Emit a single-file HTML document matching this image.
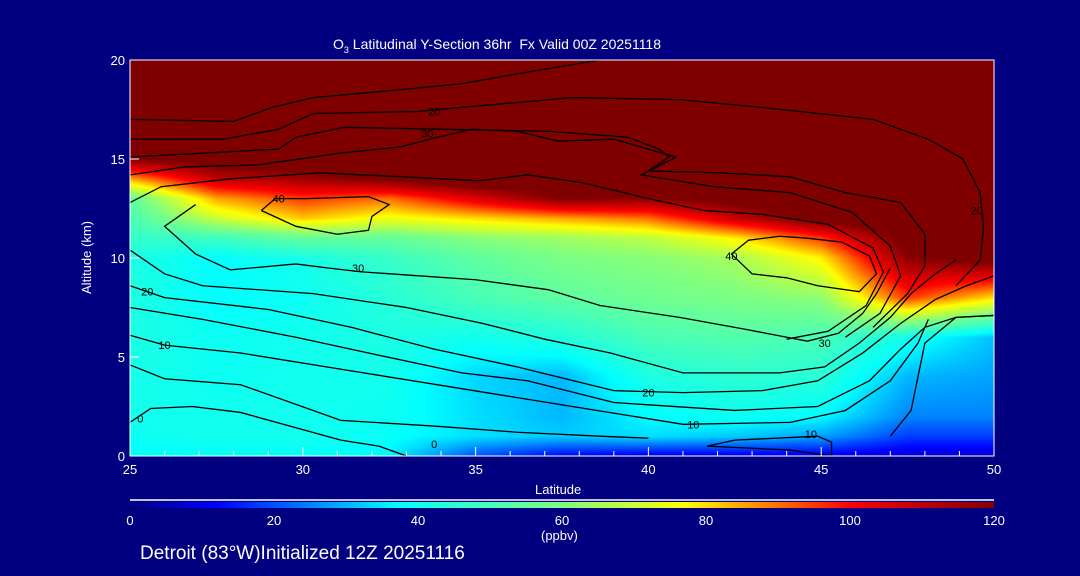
<!DOCTYPE html>
<html><head><meta charset="utf-8"><style>
body{margin:0;background:#000080;width:1080px;height:576px;overflow:hidden;font-family:"Liberation Sans",sans-serif;color:#fff}
#wrap{position:relative;width:1080px;height:576px}
.t{position:absolute;white-space:nowrap;font-size:13px;color:#fff}
</style></head><body>
<div id="wrap">
<canvas id="field" width="864" height="396" style="position:absolute;left:130px;top:60px"></canvas>
<canvas id="cbar" width="864" height="6" style="position:absolute;left:130px;top:502px"></canvas>
<svg id="svg" width="1080" height="576" style="position:absolute;left:0;top:0"></svg>
<div class="t" style="left:333px;top:36px;font-size:14px">O<sub style="font-size:9px">3</sub> Latitudinal Y-Section 36hr&nbsp; Fx Valid 00Z 20251118</div>
<div class="t" style="left:535px;top:482px">Latitude</div>
<div class="t" style="left:50px;top:250px;transform:rotate(-90deg);transform-origin:center">Altitude (km)</div>
<div class="t" style="left:541px;top:528px">(ppbv)</div>
<div class="t" style="left:140px;top:543px;font-size:19px">Detroit (83°W)Initialized 12Z 20251116</div>
</div>
<script>
const lats=[25,27.5,30,32.5,35,37.5,40,42.5,45,47.5,50];
const alts=[0,1,2,4,6,8,10,11,12,13,14,15,17,20];
const ozone=[
[37,38,38,36,20,12,10,10,10,8,8],
[39,40,40,38,34,32,34,32,28,18,18],
[40,40,40,39,34,30,37,39,37,25,25],
[41,39,40,40,33,30,42,45,44,30,28],
[42,39,40,42,40,43,50,52,50,40,31],
[42,37,39,44,50,54,57,59,62,95,80],
[42,37,41,47,54,59,61,65,78,118,125],
[46,48,55,55,61,64,68,78,95,125,130],
[50,70,82,75,80,85,90,108,125,130,130],
[54,85,95,90,105,120,118,125,130,130,130],
[85,110,115,122,130,130,130,130,130,130,130],
[120,126,130,130,130,130,130,130,130,130,130],
[130,130,130,130,130,130,130,130,130,130,130],
[130,130,130,130,130,130,130,130,130,130,130]];
const cbTicks=[0,20,40,60,80,100,120];
const xTicks=[25,30,35,40,45,50];
const yTicks=[0,5,10,15,20];
const contours=[
[[25,17],[28,16.9],[29.1,17.6],[30.3,18.1],[32.2,18.4],[34.6,18.8],[36.2,19.3],[38.6,20]],
[[25,16],[27.7,16],[29.3,16.5],[30.3,17.3],[33.3,17.4],[35.2,17.7],[37.8,18.1],[40.9,18],[43.3,17.6],[46.5,17],[48.1,16],[49.1,15],[49.6,13.3],[49.7,11.6],[49.6,9.9],[48.9,8.6]],
[[25,15.1],[29.3,15.5],[29.8,16.1],[31.2,16.6],[34.1,16.5],[37.1,16.4],[39.4,16.1],[40.3,15.5],[40.6,15.1],[40,14.4],[42.1,14.3],[44.1,14.1],[45.7,13.3],[47.3,12.8],[48,11.2],[48,9.6],[47.5,8.2],[46.5,6.5]],
[[25,14.2],[26.6,14.6],[28.7,14.7],[31.1,15.3],[32.8,15.6],[33.9,16.1],[34.9,16.5],[36.2,16.4],[37.4,15.9],[39,16],[40.8,15.1],[39.8,14.2],[41.9,13.6],[44.1,13.3],[45.9,12.3],[47,10.6],[47.3,9.1],[46.7,7.2],[45.7,6]],
[[25,12.8],[25.9,13.6],[27.9,14],[30.5,14.3],[32.9,14.1],[35.1,13.9],[36.5,14.2],[38.1,13.8],[40,13.0],[41.6,12.4],[43.3,12.2],[45.2,11.7],[46.5,10.5],[46.8,9.3],[46.3,7.6],[45.2,6.3],[44,5.9]],
[[28.8,12.4],[29.2,13.0],[30.1,13.0],[31.9,13.1],[32.5,12.7],[32.0,12.1],[31.9,11.4],[31.0,11.2],[29.8,11.6],[28.8,12.4]],
[[42.4,10.2],[42.9,10.9],[43.8,11.1],[44.6,11.0],[45.6,10.8],[46.4,10.1],[46.6,9.2],[46.1,8.3],[44.9,8.6],[44.0,9.0],[43.0,9.2],[42.7,9.7],[42.4,10.2]],
[[26.9,12.7],[26.0,11.6],[26.9,10.2],[27.9,9.4],[29.8,9.7],[30.7,9.5],[31.7,9.3],[35,8.9],[37.1,8.4],[38.6,7.6],[40.9,7.0],[42.8,6.4],[44.6,5.8],[45.5,6.2],[46.2,7.2],[46.6,8.2],[47.0,9.5]],
[[25,10.4],[26,9.2],[27.1,8.6],[30.3,8.2],[33,7.5],[35.2,6.7],[37,5.9],[38.9,5.2],[41,4.2],[43.8,4.2],[45.1,4.5],[46.1,5.7],[47,7.0],[47.6,8.2],[48.3,9.2],[48.9,9.9]],
[[25,8.6],[26,8.0],[29,7.4],[31.4,6.5],[33.8,5.4],[36.2,4.5],[39,3.3],[41,3.2],[43.3,3.3],[44.9,3.8],[46.2,5.2],[47.3,6.7],[48.3,7.9],[49.2,8.6],[50,9.1]],
[[25,7.5],[27.1,6.9],[29.8,6.0],[31.9,5.2],[34.6,4.2],[36.5,3.8],[39,2.7],[42.5,2.3],[44.9,2.5],[46.4,3.8],[47.3,5.4],[48,6.5],[48.9,7.0],[50,7.1]],
[[25,6.1],[26,5.6],[28.2,5.2],[31.4,4.3],[34.6,3.4],[37.8,2.5],[41,1.6],[44.1,1.7],[45.7,2.3],[47,3.8],[47.8,5.7],[48.1,6.9]],
[[25,4.6],[26,3.9],[28.2,3.6],[31.1,1.8],[33.9,1.5],[36.2,1.2],[38.6,1.0],[40,0.9]],
[[25,1.7],[25.6,2.4],[26.8,2.5],[28.2,2.2],[31.1,0.8],[32.2,0.5],[33,0]],
[[41.7,0.5],[42.5,0.8],[44.9,1.0],[45.3,0.7],[45.3,0],[44.1,0.3],[41.7,0.5]],
[[47,1.0],[47.6,2.3],[47.8,4.0],[48,5.7],[48.9,7.0],[50,7.1]]
];
const cLabels=[["40",29.3,13.0],["30",31.6,9.5],["20",25.5,8.3],["10",26.0,5.6],["0",25.3,1.9],["0",33.8,0.6],["20",40,3.2],["10",41.3,1.6],["10",44.7,1.1],["30",45.1,5.7],["40",42.4,10.1],["20",33.8,17.4],["30",33.6,16.3],["20",49.5,12.4]];
const stops=[[0,[0,0,130]],[12,[0,0,255]],[37,[0,255,255]],[60,[128,255,128]],[77,[255,255,0]],[100,[255,0,0]],[120,[128,0,0]]];
const X0=130,X1=994,Y0=456,Y1=60;
const xs=l=>X0+(l-25)/25*(X1-X0), ys=a=>Y0-(a/20)*(Y0-Y1);
function cmap(v){v=Math.max(0,Math.min(120,v));for(let i=1;i<stops.length;i++){if(v<=stops[i][0]){const[a,ca]=stops[i-1],[b,cb]=stops[i];const t=(v-a)/(b-a);return ca.map((c,k)=>Math.round(c+(cb[k]-c)*t));}}return stops[stops.length-1][1];}
function idx(arr,v){for(let i=0;i<arr.length-1;i++)if(v<=arr[i+1])return[i,(v-arr[i])/(arr[i+1]-arr[i])];return[arr.length-2,1];}
const fc=document.getElementById('field').getContext('2d');const img=fc.createImageData(864,396);
for(let py=0;py<396;py++){const a=20-(py+0.5)/396*20;const[j,ty]=idx(alts,a);
for(let px=0;px<864;px++){const l=25+(px+0.5)/864*25;const[i,tx]=idx(lats,l);
const v=(ozone[j][i]*(1-tx)+ozone[j][i+1]*tx)*(1-ty)+(ozone[j+1][i]*(1-tx)+ozone[j+1][i+1]*tx)*ty;
const c=cmap(v);const o=(py*864+px)*4;img.data[o]=c[0];img.data[o+1]=c[1];img.data[o+2]=c[2];img.data[o+3]=255;}}
fc.putImageData(img,0,0);
const cc=document.getElementById('cbar').getContext('2d');
for(let px=0;px<864;px++){const c=cmap(px/864*120);cc.fillStyle=`rgb(${c})`;cc.fillRect(px,0,1,6);}
const svg=document.getElementById('svg');const NS='http://www.w3.org/2000/svg';
function mk(t,at){const e=document.createElementNS(NS,t);for(const k in at)e.setAttribute(k,at[k]);svg.appendChild(e);return e;}
contours.forEach(c=>{const e=mk('polyline',{points:c.map(p=>xs(p[0])+','+ys(p[1])).join(' '),fill:'none',stroke:'#000','stroke-width':1.3});

});
cLabels.forEach(L=>{const e=mk('text',{x:xs(L[1]),y:ys(L[2])+4,'font-size':11,fill:'#000','text-anchor':'middle','font-family':'Liberation Sans'});e.textContent=L[0];

});
const fr=mk('rect',{x:X0,y:Y1,width:X1-X0,height:Y0-Y1,fill:'none',stroke:'#fff','stroke-width':1});


for(let l=25;l<=50;l++){const e=mk('line',{x1:xs(l),x2:xs(l),y1:Y0,y2:Y0-(l%5?5:9),stroke:'#fff'});

}
xTicks.forEach(l=>{const e=mk('text',{x:xs(l),y:Y0+18,'font-size':13,fill:'#fff','text-anchor':'middle','font-family':'Liberation Sans'});e.textContent=l;

});
yTicks.forEach(a=>{const t=mk('line',{x1:X0,x2:X0+9,y1:ys(a),y2:ys(a),stroke:'#fff'});


const e=mk('text',{x:X0-5,y:ys(a)+5,'font-size':13,fill:'#fff','text-anchor':'end','font-family':'Liberation Sans'});e.textContent=a;

});
const cl=mk('line',{x1:130,x2:994,y1:500,y2:500,stroke:'#fff','stroke-width':1.5});


cbTicks.forEach(v=>{const e=mk('text',{x:130+v/120*864,y:525,'font-size':13,fill:'#fff','text-anchor':'middle','font-family':'Liberation Sans'});e.textContent=v;

});
</script>
</body></html>
